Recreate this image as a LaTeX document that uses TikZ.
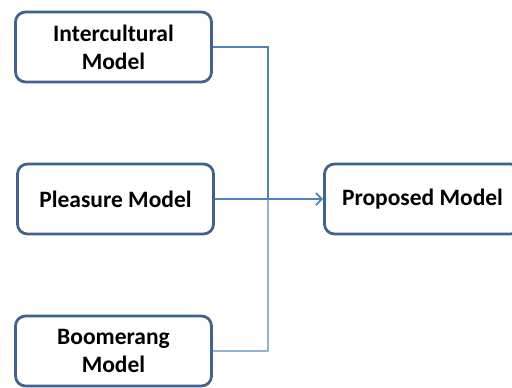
\documentclass[tikz,border=0pt]{standalone}
\usepackage{fontspec}
\setmainfont{Carlito}
\usepackage{tikz}
\usetikzlibrary{arrows,arrows.meta,shapes,positioning}
\definecolor{boxline}{HTML}{41628F}
\definecolor{link}{HTML}{4F81BD}
\definecolor{linklight}{HTML}{95B3D7}

\begin{document}
\begin{tikzpicture}
			[x=1pt, y=1pt,
			model/.style={draw=boxline, line width=2.8pt, rounded corners=10pt, minimum width=196pt, minimum height=70pt, align=center, font=\fontsize{23.5}{28}\selectfont\bfseries},]
          	\useasboundingbox (0,0) rectangle (512,388);
          	\node[model] (M1) at (113.5, 341) {Intercultural\\Model};
          	\node[model] (M2) at (115.5, 189) {Pleasure Model};
          	\node[model] (M3) at (113.5, 37) {Boomerang\\Model};
          	\node[model] (PM) at (422.5, 189) {Proposed Model};
          	\coordinate (J) at (268, 189);

            \draw[link, line width=1.8pt] (M1.east) -| (J);
            \draw[linklight, line width=1.8pt] (M3.east) -| (J);
            \draw[-{Straight Barb[length=6pt, width=12pt]}, link, line width=1.8pt] (M2.east) -- (PM.west);
			\end{tikzpicture}
\end{document}
